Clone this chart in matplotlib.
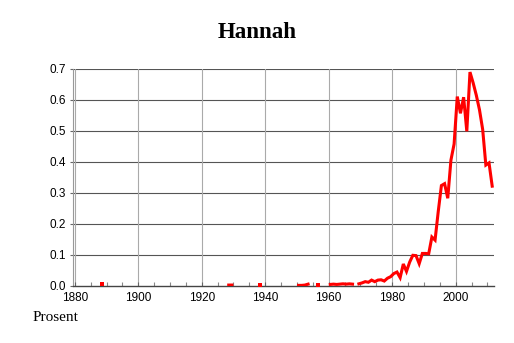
import matplotlib.pyplot as plt
import numpy as np
import pandas as pd

# Share of newborn girls named Hannah (percent), by year
years = [1888, 1928, 1929, 1938, 1950, 1951, 1952, 1953, 1956,
         1960, 1961, 1962, 1963, 1964, 1965, 1966, 1967] + list(range(1969, 2012))
share = [0.006, 0.003, 0.003, 0.003, 0.002, 0.002, 0.003, 0.006, 0.003,
         0.005, 0.006, 0.005, 0.006, 0.007, 0.006, 0.007, 0.006,
         0.007, 0.010, 0.014, 0.012, 0.019, 0.014, 0.019, 0.020, 0.016, 0.025,
         0.030, 0.040, 0.045, 0.027, 0.071, 0.047, 0.077, 0.099, 0.098, 0.072,
         0.105, 0.105, 0.104, 0.158, 0.148, 0.240, 0.324, 0.330, 0.283, 0.406,
         0.458, 0.611, 0.557, 0.609, 0.499, 0.690, 0.655, 0.615, 0.568, 0.505,
         0.390, 0.397, 0.322]

s = pd.Series(share, index=years).reindex(range(1880, 2012))
x = s.index.values + 0.5   # plotted at mid-year
y = s.values

fig = plt.figure(figsize=(5.14, 3.43), dpi=100)
ax = fig.add_axes([0.1414, 0.1662, 0.8197, 0.6327])

# grid
for v in np.arange(0.1, 0.71, 0.1):
    ax.axhline(v, color='#555555', lw=0.8, zorder=1)
for yr in range(1880, 2001, 20):
    ax.axvline(yr, color='#aaaaaa', lw=0.8, zorder=1)

ax.plot(x, y, color='red', lw=2.2, zorder=3, solid_joinstyle='miter')
# single years with no neighbours
isolated = ~np.isnan(y) & np.isnan(np.r_[np.nan, y[:-1]]) & np.isnan(np.r_[y[1:], np.nan])
ax.plot(x[isolated], y[isolated], 's', color='red', ms=2.4, mew=0, zorder=3)

ax.set_xlim(1879.34, 2012.07)
ax.set_ylim(0, 0.7)
ax.set_xticks(range(1880, 2001, 20))
ax.set_xticks(range(1885, 2012, 5), minor=True)
ax.set_yticks(np.arange(0, 0.71, 0.1))
ax.set_yticklabels(['%.1f' % v for v in np.arange(0, 0.71, 0.1)])

for side in ['top', 'right']:
    ax.spines[side].set_visible(False)
ax.spines['left'].set_color('#999999')
ax.spines['left'].set_linewidth(0.8)
ax.spines['bottom'].set_color('#444444')
ax.spines['bottom'].set_linewidth(1.0)

ax.tick_params(axis='x', direction='in', length=3, width=0.8, color='#666666',
               labelsize=8.5, pad=4)
ax.tick_params(axis='x', which='minor', direction='in', length=3, width=0.8, color='#888888')
ax.tick_params(axis='y', direction='out', length=2, width=0.8, color='#666666',
               labelsize=8.5, pad=3)
for lab in ax.get_xticklabels() + ax.get_yticklabels():
    lab.set_family('Liberation Sans')

fig.text(0.5, 0.905, 'Hannah', ha='center', va='center', family='Liberation Serif',
         fontweight='bold', fontsize=16.5)
fig.text(0.064, 0.073, 'Prosent', ha='left', va='center', family='Liberation Serif',
         fontsize=11)

fig.savefig('out.png', dpi=100)
